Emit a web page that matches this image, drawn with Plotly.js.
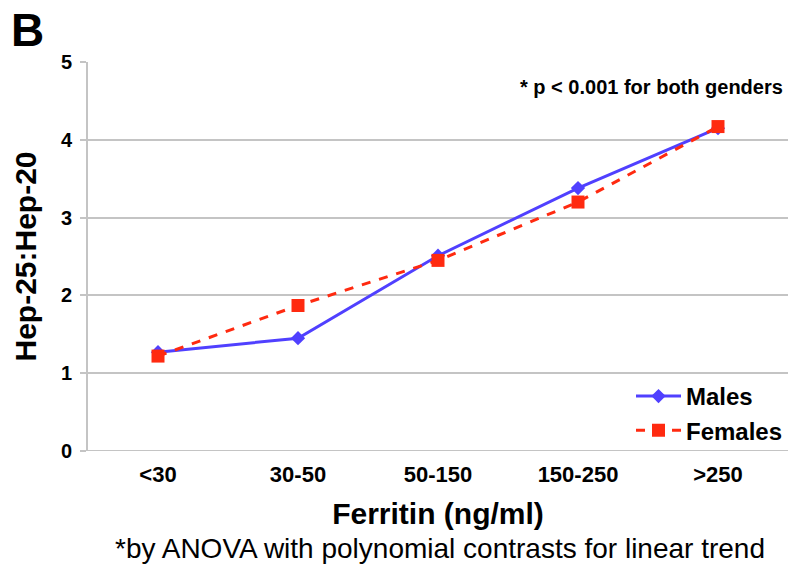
<!DOCTYPE html>
<html><head><meta charset="utf-8">
<script src="https://cdn.plot.ly/plotly-3.0.1.min.js"></script>
<style>body{margin:0;padding:0;background:#fff}#chart{width:789px;height:567px}</style>
</head><body><div id="chart"></div>
<script>
const categories = ["<30", "30-50", "50-150", "150-250", ">250"];
const males = [1.27, 1.45, 2.51, 3.38, 4.15];
const females = [1.22, 1.87, 2.45, 3.20, 4.17];
const yTicks = [0, 1, 2, 3, 4, 5];

const FONT = "Liberation Sans, Arial, sans-serif";
const data = [
  {x: categories, y: males, name: "Males", type: "scatter", mode: "lines+markers",
   line: {color: "#5040ff", width: 3},
   marker: {symbol: "diamond", size: 11, color: "#5040ff"}},
  {x: categories, y: females, name: "Females", type: "scatter", mode: "lines+markers",
   line: {color: "#ff2a10", width: 3, dash: "dash"},
   marker: {symbol: "square", size: 13, color: "#ff2a10"}}
];
const layout = {
  width: 789, height: 567,
  margin: {l: 88, r: 1, t: 62, b: 116},
  paper_bgcolor: "#fff", plot_bgcolor: "#fff",
  font: {family: FONT, color: "#000"},
  showlegend: true,
  legend: {x: 1, xanchor: "right", y: -0.005, yanchor: "bottom", bgcolor: "rgba(0,0,0,0)",
           font: {family: FONT, size: 24, color: "#000", weight: "bold"}, itemwidth: 45},
  xaxis: {type: "category", range: [-0.5, 4.5], showgrid: false, zeroline: false,
          showline: false, ticks: "", tickfont: {family: FONT, size: 22, weight: "bold"},
          ticklabelstandoff: 8,
          title: {text: "<b>Ferritin (ng/ml)</b>", font: {family: FONT, size: 30}, standoff: 16}},
  yaxis: {range: [0, 5], tickvals: yTicks, showgrid: true, gridcolor: "#c4c4c4", gridwidth: 2,
          zeroline: false, showline: true, linecolor: "#c4c4c4", linewidth: 2,
          ticks: "outside", ticklen: 6, tickcolor: "#c4c4c4", tickwidth: 2,
          tickfont: {family: FONT, size: 20, weight: "bold"}, ticklabelstandoff: 4,
          title: {text: "<b>Hep-25:Hep-20</b>", font: {family: FONT, size: 30}, standoff: 15}},
  shapes: [
    {type: "line", xref: "paper", yref: "y", x0: -0.01, x1: 1, y0: 0, y1: 0,
     line: {color: "#c4c4c4", width: 2}}
  ],
  annotations: [
    {text: "<b>B</b>", xref: "paper", yref: "paper", x: -0.113, y: 1.155, xanchor: "left", yanchor: "top",
     showarrow: false, font: {family: FONT, size: 46}},
    {text: "<b>* p < 0.001 for both genders</b>", xref: "paper", yref: "paper", x: 0.995, y: 0.935,
     xanchor: "right", yanchor: "middle", showarrow: false, font: {family: FONT, size: 20}},
    {text: "*by ANOVA with polynomial contrasts for linear trend", xref: "paper", yref: "paper",
     x: 0.503, y: -0.25, xanchor: "center", yanchor: "middle", showarrow: false,
     font: {family: FONT, size: 28}}
  ]
};
Plotly.newPlot("chart", data, layout, {displayModeBar: false, staticPlot: true});
</script>
</body></html>
